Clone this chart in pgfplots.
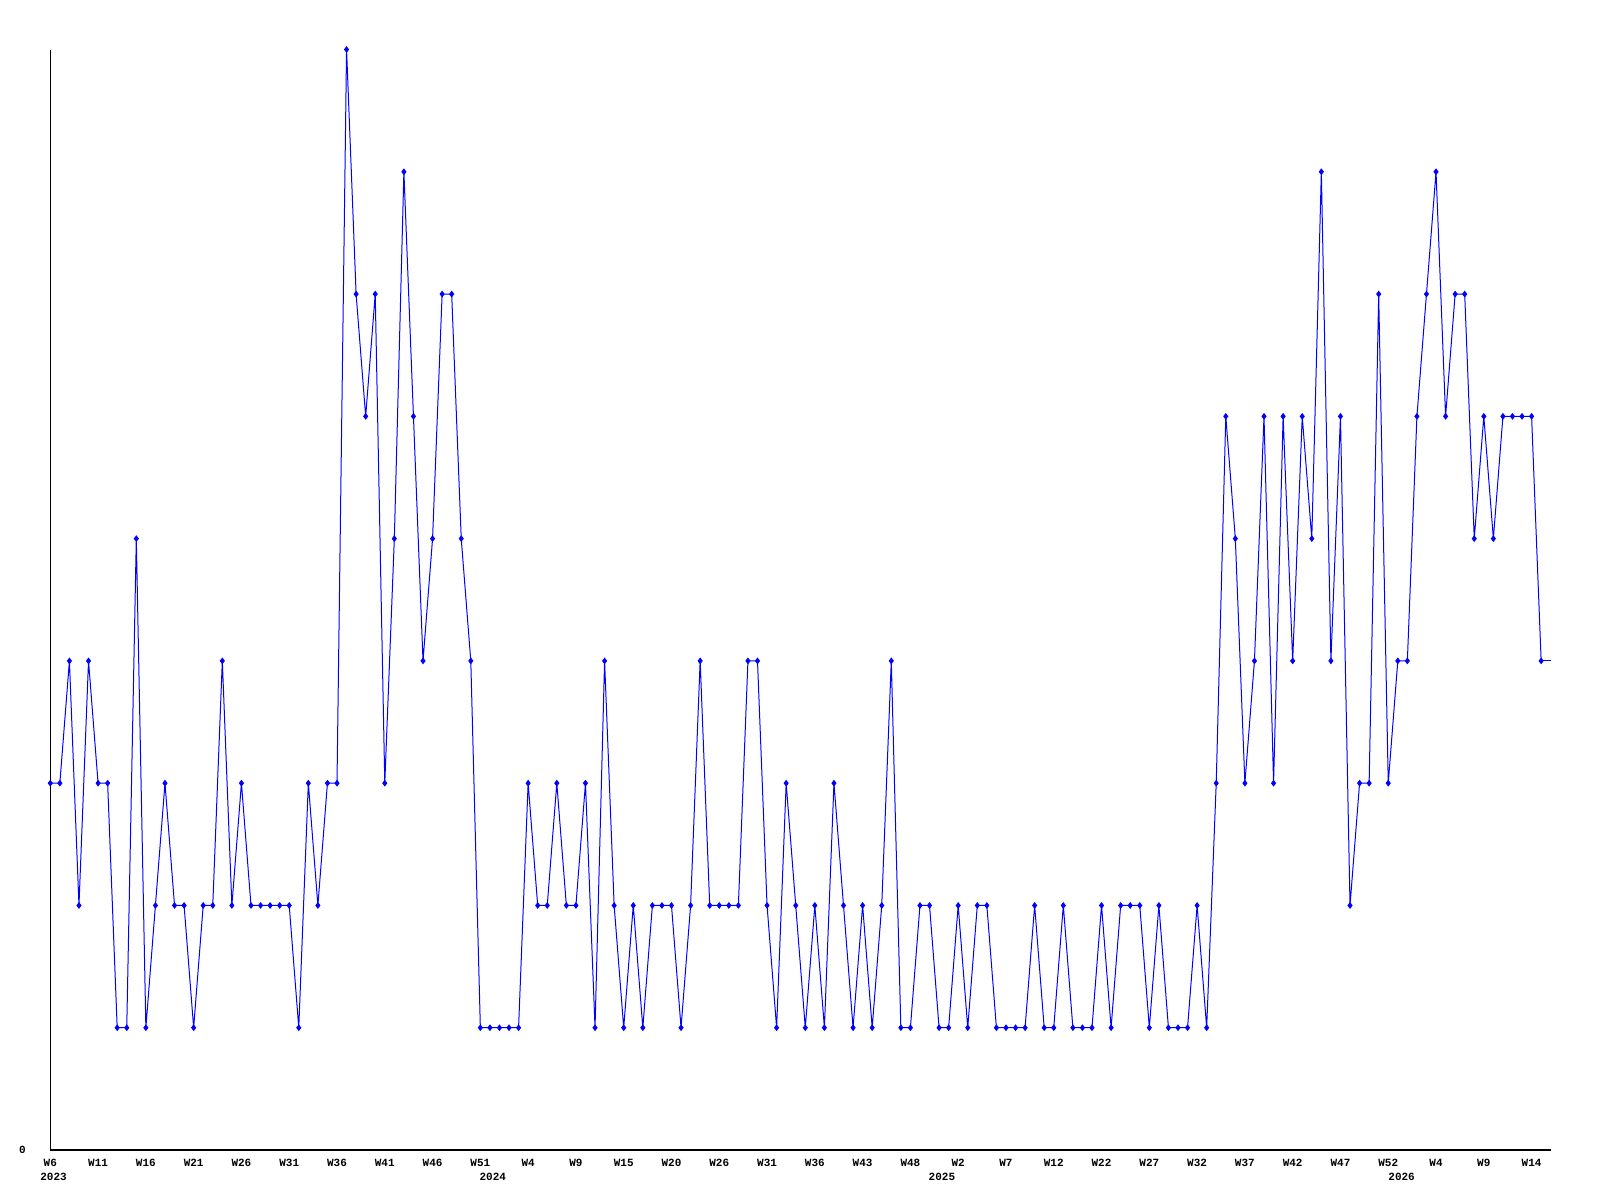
\documentclass[border=0pt]{standalone}
\usepackage{pgfplots}
\usepackage{pgfplotstable}
\pgfplotsset{compat=1.18}
\usepackage{fontspec}
\setmonofont{Liberation Mono}
\definecolor{lineblue}{RGB}{0,0,255}
\pgfplotstableread{
x y
0 3
1 3
2 4
3 2
4 4
5 3
6 3
7 1
8 1
9 5
10 1
11 2
12 3
13 2
14 2
15 1
16 2
17 2
18 4
19 2
20 3
21 2
22 2
23 2
24 2
25 2
26 1
27 3
28 2
29 3
30 3
31 9
32 7
33 6
34 7
35 3
36 5
37 8
38 6
39 4
40 5
41 7
42 7
43 5
44 4
45 1
46 1
47 1
48 1
49 1
50 3
51 2
52 2
53 3
54 2
55 2
56 3
57 1
58 4
59 2
60 1
61 2
62 1
63 2
64 2
65 2
66 1
67 2
68 4
69 2
70 2
71 2
72 2
73 4
74 4
75 2
76 1
77 3
78 2
79 1
80 2
81 1
82 3
83 2
84 1
85 2
86 1
87 2
88 4
89 1
90 1
91 2
92 2
93 1
94 1
95 2
96 1
97 2
98 2
99 1
100 1
101 1
102 1
103 2
104 1
105 1
106 2
107 1
108 1
109 1
110 2
111 1
112 2
113 2
114 2
115 1
116 2
117 1
118 1
119 1
120 2
121 1
122 3
123 6
124 5
125 3
126 4
127 6
128 3
129 6
130 4
131 6
132 5
133 8
134 4
135 6
136 2
137 3
138 3
139 7
140 3
141 4
142 4
143 6
144 7
145 8
146 6
147 7
148 7
149 5
150 6
151 5
152 6
153 6
154 6
155 6
156 4
}\datatable
\pgfplotstableread{
x y
156 4
157 4
}\tailtable
\begin{document}
\begin{tikzpicture}
\path[use as bounding box] (0,0) rectangle (800pt,600pt);
\begin{axis}[
  at={(25.15pt,25pt)}, anchor=south west,
  scale only axis, width=750.2pt, height=550.25pt,
  xmin=0, xmax=157, ymin=0, ymax=9,
  axis lines*=left,
  axis line style={black, line width=0.6pt},
  clip=false,
  major tick length=0pt,
  xtick={0,5,...,155},
  xticklabels={W6,W11,W16,W21,W26,W31,W36,W41,W46,W51,W4,W9,W15,W20,W26,W31,W36,W43,W48,W2,W7,W12,W22,W27,W32,W37,W42,W47,W52,W4,W9,W14},
  ytick={0}, yticklabels={0},
  ticklabel style={font=\ttfamily\bfseries\fontsize{5.5}{6}\selectfont, inner sep=0pt},
  xticklabel style={anchor=center, yshift=-6.25pt},
  yticklabel style={anchor=center, xshift=-13.9pt},
]
\addplot[lineblue, line width=0.5pt, mark=diamond*, mark size=1.3pt, mark options={solid, fill=lineblue}] table[x=x,y=y] {\datatable};
\addplot[lineblue, line width=0.5pt, no marks] table[x=x,y=y] {\tailtable};
\begin{scope}[every node/.style={font=\ttfamily\bfseries\fontsize{5.5}{6}\selectfont, inner sep=0pt, anchor=center, yshift=-13.5pt}]
\node at (axis cs:0.34,0) {2023};
\node at (axis cs:46.3,0) {2024};
\node at (axis cs:93.3,0) {2025};
\node at (axis cs:141.4,0) {2026};
\end{scope}
\end{axis}
\end{tikzpicture}
\end{document}
